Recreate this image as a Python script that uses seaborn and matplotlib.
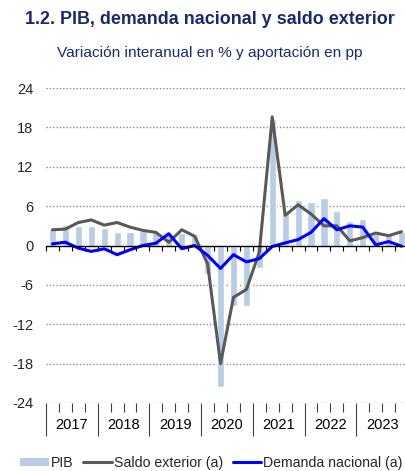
import numpy as np
import pandas as pd
import matplotlib
matplotlib.use("Agg")
import matplotlib.pyplot as plt
from matplotlib.lines import Line2D
from matplotlib.patches import Patch
import seaborn as sns

# quarterly data 2017Q1 - 2023Q4
years = ["2017", "2018", "2019", "2020", "2021", "2022", "2023"]
quarters = [f"{y}T{q}" for y in years for q in range(1, 5)]
pib = [2.5, 3.2, 3.0, 3.0, 2.6, 2.1, 2.0, 2.2,
       2.0, 1.8, 1.9, 1.7, -4.4, -21.6, -9.2, -9.2,
       -3.5, 19.3, 5.1, 7.0, 6.7, 7.2, 5.3, 3.8,
       4.1, 1.8, 1.8, 2.0]
saldo = [2.4, 2.5, 3.5, 3.9, 3.1, 3.5, 2.8, 2.3,
         2.0, 0.5, 2.4, 1.4, -2.8, -18.0, -7.9, -6.7,
         -1.0, 19.6, 4.6, 6.2, 4.8, 3.0, 3.0, 0.7,
         1.2, 1.9, 1.5, 2.1]
demanda = [0.25, 0.5, -0.4, -0.9, -0.5, -1.4, -0.65, 0.0,
           0.35, 1.8, -0.5, 0.0, -1.5, -3.5, -1.4, -2.5,
           -2.0, -0.15, 0.4, 0.9, 2.0, 4.1, 2.4, 3.0,
           2.8, 0.1, 0.6, -0.1]

df = pd.DataFrame({"trimestre": quarters, "pib": pib,
                   "saldo": saldo, "demanda": demanda})
df["pos"] = np.arange(len(df))

navy = "#1B2A6B"
bar_col = "#B8CCE4"
grey_col = "#595959"
blue_col = "#0000FF"

sns.set_theme(style="white")
plt.rcParams["font.family"] = ["Liberation Sans", "DejaVu Sans"]

fig = plt.figure(figsize=(4.05, 4.71), dpi=100)
ax = fig.add_axes([46 / 405, 1 - 403 / 471, 362 / 405, 315 / 471])

sns.barplot(data=df, x="trimestre", y="pib", color=bar_col, width=0.55,
            saturation=1, ax=ax, zorder=2)
sns.lineplot(data=df, x="pos", y="saldo", color=grey_col, linewidth=2.2,
             ax=ax, zorder=3)
sns.lineplot(data=df, x="pos", y="demanda", color=blue_col, linewidth=2.2,
             ax=ax, zorder=4)

n = len(df)
ax.set_xlim(-0.5, n - 0.5)
ax.set_ylim(-24, 24)
ax.set_xlabel("")
ax.set_ylabel("")

# y axis
yt = np.arange(-24, 25, 6)
ax.set_yticks(yt)
ax.set_yticklabels([str(v) for v in yt], fontsize=10.5)
ax.tick_params(axis="y", length=0, pad=9)
for v in yt:
    if v != 0:
        ax.axhline(v, color="#8c8c8c", linestyle=(0, (1, 1.4)), linewidth=1,
                   zorder=0)

for s in ["left", "right", "top"]:
    ax.spines[s].set_visible(False)
ax.spines["bottom"].set_position(("data", 0))
ax.spines["bottom"].set_color("black")
ax.spines["bottom"].set_linewidth(1)
ax.spines["bottom"].set_zorder(5)

bounds = np.arange(n + 1) - 0.5
ax.set_xticks(bounds)
ax.set_xticklabels([])
ax.tick_params(axis="x", direction="out", length=3.6, width=0.8,
               color="black", bottom=True)

# bottom category axis: quarter ticks + year separators
sec = ax.secondary_xaxis(0)
sec.set_xticks(bounds[::4])
sec.set_xticks(bounds, minor=True)
sec.set_xticklabels([])
sec.tick_params(axis="x", which="major", length=24, width=0.8, color="#404040")
sec.tick_params(axis="x", which="minor", length=6.5, width=0.8, color="#404040")
sec.spines["bottom"].set_visible(False)

lab = ax.secondary_xaxis(0)
lab.set_xticks(np.arange(len(years)) * 4 + 1.5)
lab.set_xticklabels(years, fontsize=10.5, color="black")
lab.tick_params(axis="x", length=0, pad=11)
lab.spines["bottom"].set_visible(False)

fig.text(0.518, 1 - 20 / 471, "1.2. PIB, demanda nacional y saldo exterior",
         ha="center", va="center", fontsize=12.85, fontweight="bold",
         color=navy)
fig.text(0.518, 1 - 53 / 471, "Variación interanual en % y aportación en pp",
         ha="center", va="center", fontsize=11.1, color=navy)

handles = [Patch(facecolor=bar_col, edgecolor="none"),
           Line2D([], [], color=grey_col, linewidth=2.2),
           Line2D([], [], color=blue_col, linewidth=2.2)]
labels = ["PIB", "Saldo exterior (a)", "Demanda nacional (a)"]
fig.legend(handles, labels, loc="center", bbox_to_anchor=(0.522, 1 - 463 / 471),
           ncol=3, frameon=False, fontsize=10.2, handlelength=2.0,
           handleheight=0.55, handletextpad=0.15, columnspacing=0.7,
           borderaxespad=0, borderpad=0)

fig.savefig("out.png", dpi=100)
